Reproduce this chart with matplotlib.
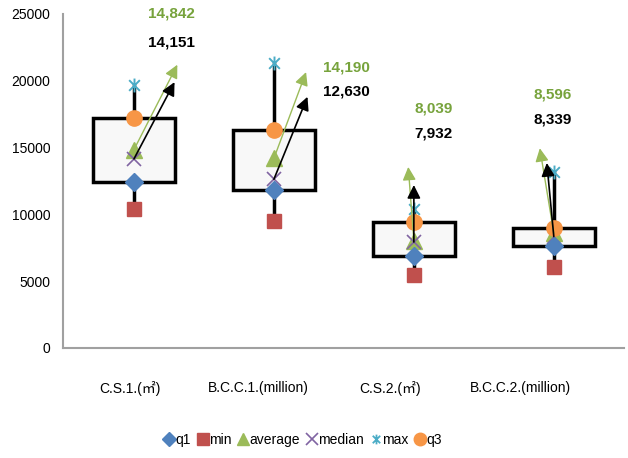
import numpy as np
import matplotlib
matplotlib.use("Agg")
import matplotlib.pyplot as plt
from matplotlib.path import Path
from matplotlib.lines import Line2D

plt.rcParams['font.family'] = ['Liberation Sans', 'Noto Sans CJK SC', 'DejaVu Sans']

# data
categories = ['C.S.1.(㎡)', 'B.C.C.1.(million)', 'C.S.2.(㎡)', 'B.C.C.2.(million)']
q1 = [12400, 11800, 6900, 7600]
mins = [10400, 9500, 5450, 6050]
average = [14842, 14190, 8039, 8596]
median = [14151, 12630, 7932, 8339]
maxs = [19700, 21300, 10400, 13150]
q3 = [17200, 16300, 9400, 8950]

# arrow tips (offset from box centre, value) and label places
avg_tip_dx = [0.31, 0.23, -0.04, -0.10]
avg_tip_y = [21200, 20650, 13550, 14950]
med_tip_dx = [0.29, 0.24, 0.0, -0.05]
med_tip_y = [19900, 18800, 12200, 13850]
lab_dx = [0.27, 0.52, 0.14, -0.01]
avg_lab_y = [25000, 21030, 17890, 18940]
med_lab_y = [22900, 19160, 16090, 17070]
label_pos = [-0.03, 0.886, 1.83, 2.76]

c_q1 = '#4F81BD'
c_min = '#C0504D'
c_avg = '#9BBB59'
c_med = '#8064A2'
c_max = '#4BACC6'
c_q3 = '#F79646'
c_txt_green = '#77A33C'

# asterisk-like marker for max: x with a vertical bar
star = Path([(-1, -1), (1, 1), (-1, 1), (1, -1), (0, -1.3), (0, 1.3)],
            [Path.MOVETO, Path.LINETO, Path.MOVETO, Path.LINETO, Path.MOVETO, Path.LINETO])

fig = plt.figure(figsize=(6.28, 4.58), dpi=100)
ax = fig.add_axes([0.1003, 0.2402, 0.893, 0.7293])

x = np.arange(len(categories))
bw = 0.585
for i in x:
    ax.plot([i, i], [mins[i], maxs[i]], color='black', lw=2.5, zorder=1)
    ax.bar(i, q3[i] - q1[i], bottom=q1[i], width=bw, color='#F8F8F8',
           edgecolor='black', linewidth=2.5, zorder=2)

ax.plot(x, q1, 'D', color=c_q1, ms=9, zorder=5)
ax.plot(x, mins, 's', color=c_min, ms=10, zorder=5)
ax.plot(x, average, '^', color=c_avg, ms=11, zorder=4)
ax.plot(x, median, 'x', color=c_med, ms=10, mew=1.2, zorder=4)
ax.plot(x, maxs, marker=star, ls='none', color=c_max, ms=10, mew=1.4, zorder=5)
ax.plot(x, q3, 'o', color=c_q3, ms=11, zorder=5)

for i in x:
    ax.annotate('', xy=(i + avg_tip_dx[i], avg_tip_y[i]), xytext=(i, average[i]),
                arrowprops=dict(arrowstyle='-|>', color=c_avg, lw=1.0, mutation_scale=20,
                                shrinkA=0, shrinkB=0), zorder=6)
    ax.annotate('', xy=(i + med_tip_dx[i], med_tip_y[i]), xytext=(i, median[i]),
                arrowprops=dict(arrowstyle='-|>', color='black', lw=1.2, mutation_scale=20,
                                shrinkA=0, shrinkB=0), zorder=6)
    ax.text(i + lab_dx[i], avg_lab_y[i], f'{average[i]:,}', color=c_txt_green,
            fontsize=11, fontweight='bold', ha='center', va='center', clip_on=False)
    ax.text(i + lab_dx[i], med_lab_y[i], f'{median[i]:,}', color='black',
            fontsize=11, fontweight='bold', ha='center', va='center', clip_on=False)

ax.set_xlim(-0.507, 3.5)
ax.set_ylim(0, 25000)
ax.set_yticks(range(0, 25001, 5000))
ax.set_xticks(label_pos)
ax.set_xticklabels(categories, fontsize=10)
ax.tick_params(axis='both', length=0, labelsize=10)
ax.tick_params(axis='x', pad=24)
ax.tick_params(axis='y', pad=9)
for s in ['top', 'right']:
    ax.spines[s].set_visible(False)
for s in ['left', 'bottom']:
    ax.spines[s].set_color('#A0A0A0')
    ax.spines[s].set_linewidth(1.5)

handles = [
    Line2D([], [], marker='D', color=c_q1, ls='none', ms=7),
    Line2D([], [], marker='s', color=c_min, ls='none', ms=9),
    Line2D([], [], marker='^', color=c_avg, ls='none', ms=9),
    Line2D([], [], marker='x', color=c_med, ls='none', ms=8, mew=1.2),
    Line2D([], [], marker=star, color=c_max, ls='none', ms=7, mew=1.3),
    Line2D([], [], marker='o', color=c_q3, ls='none', ms=9),
]
fig.legend(handles, ['q1', 'min', 'average', 'median', 'max', 'q3'],
           loc='center', bbox_to_anchor=(303 / 628, 1 - 440 / 458), ncol=6,
           frameon=False, fontsize=10, handlelength=0.7, handletextpad=0.1,
           columnspacing=0.5)

fig.savefig('out.png', dpi=100)
